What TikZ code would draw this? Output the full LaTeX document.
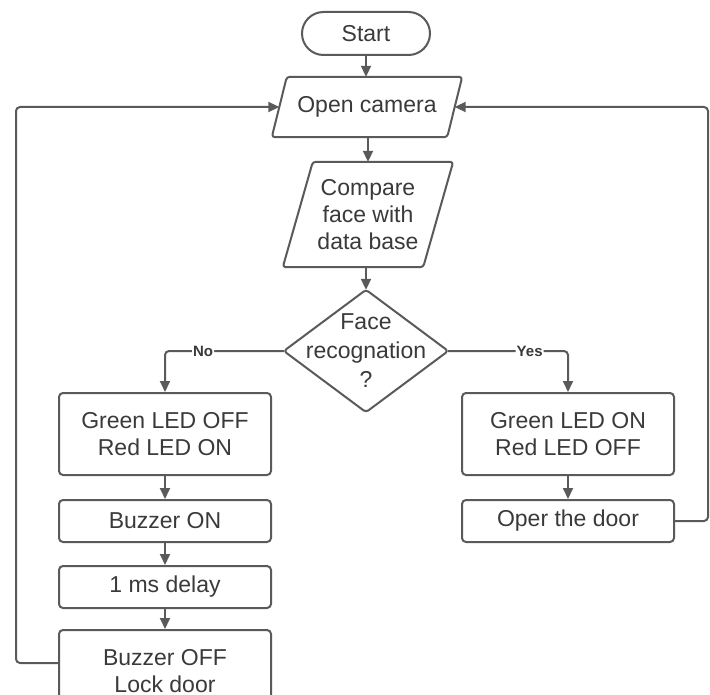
\documentclass[tikz,border=0pt]{standalone}
\usepackage{fontspec}
\setmainfont{Liberation Sans}
\usetikzlibrary{arrows.meta,calc}
\definecolor{ln}{HTML}{5A5A5A}
\definecolor{tx}{HTML}{3A3A3A}
\begin{document}
\begin{tikzpicture}[x=1pt,y=-1pt,
  every node/.style={text=tx, align=center, inner sep=0pt, font=\fontsize{23}{27}\selectfont},
  box/.style={draw=ln, line width=2pt, rounded corners=4pt, fill=white, minimum width=212pt},
  term/.style={draw=ln, line width=2pt, rounded corners=21.5pt, fill=white, minimum width=128pt, minimum height=43pt},
  plain/.style={draw=none},
  outline/.style={draw=ln, line width=2pt, rounded corners=3pt, line join=round},
  arr/.style={draw=ln, line width=2pt, rounded corners=4pt, -{Triangle[length=11pt,width=10pt]}},
  lbl/.style={fill=white, inner sep=1pt, text=tx, font=\fontsize{15}{17}\selectfont\bfseries}
]
\fill[white] (0,0) rectangle (710,695);
\clip (0,0) rectangle (710,695);

% nodes
\node[term] (start) at (366,33.5) {Start};
\node[plain, minimum width=175pt, minimum height=60pt] (cam) at (367,107) {Open camera};
\draw[outline] ([xshift=7.5pt]cam.north west) -- ([xshift=7.5pt]cam.north east)
  -- ([xshift=-7.5pt]cam.south east) -- ([xshift=-7.5pt]cam.south west) -- cycle;
\node[plain, minimum width=140pt, minimum height=105pt] (cmp) at (368,214.5) {Compare\\face with\\data base};
\draw[outline] ([xshift=15pt]cmp.north west) -- ([xshift=15pt]cmp.north east)
  -- ([xshift=-15pt]cmp.south east) -- ([xshift=-15pt]cmp.south west) -- cycle;
\node[plain, minimum width=164pt, minimum height=122pt, font=\fontsize{23}{29}\selectfont] (dec) at (366,351) {Face\\recognation\\?};
\draw[outline] (dec.north) -- (dec.east) -- (dec.south) -- (dec.west) -- cycle;

\node[box, minimum height=82pt] (l1) at (165,434) {Green LED OFF\\Red LED ON};
\node[box, minimum height=42pt] (bz) at (165,521) {Buzzer ON};
\node[box, minimum height=42pt] (dl) at (165,587) {1 ms delay};
\node[box, minimum height=82pt] (off) at (165,671) {Buzzer OFF\\Lock door};
\node[box, minimum height=82pt] (r1) at (568,434) {Green LED ON\\Red LED OFF};
\node[box, minimum height=42pt] (door) at (568,521) {Oper the door};

\coordinate (lc) at (16,107);
\coordinate (rc) at (708,107);

% connectors
\draw[arr] (start.south) -- (start.south |- cam.north);
\draw[arr] (cam.south -| cmp.north) -- (cmp.north);
\draw[arr] (cmp.south -| dec.north) -- (dec.north);
\draw[arr] (dec.west) -| node[lbl, pos=0.34] {No} (l1.north);
\draw[arr] (dec.east) -| node[lbl, pos=0.34] {Yes} (r1.north);
\draw[arr] (l1.south) -- (bz.north);
\draw[arr] (bz.south) -- (dl.north);
\draw[arr] (dl.south) -- (off.north);
\draw[arr] (r1.south) -- (door.north);
\draw[arr] ([yshift=8pt]off.west) -| (lc) -- (cam.west);
\draw[arr] (door.east) -| (rc) -- (cam.east);
\end{tikzpicture}
\end{document}
